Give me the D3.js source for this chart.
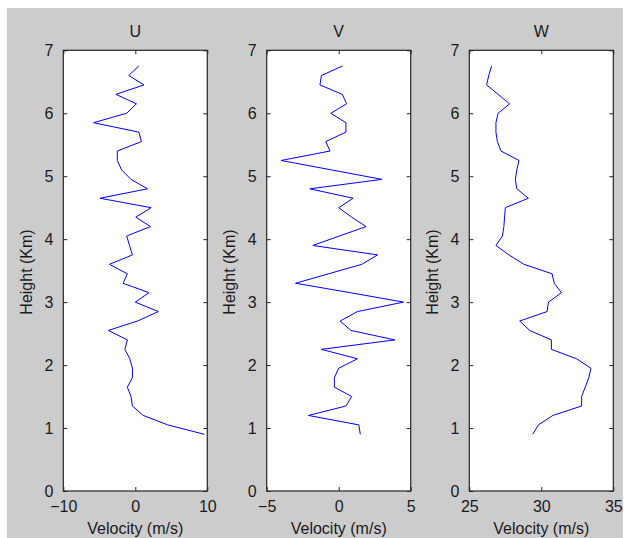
<!DOCTYPE html>
<html><head><meta charset="utf-8">
<script src="https://cdn.jsdelivr.net/npm/d3@7"></script>
<style>
html,body{margin:0;padding:0;background:#fff;}
svg{display:block;}
text{font-family:Arial,"Liberation Sans",sans-serif;fill:#1a1a1a;}
</style></head>
<body>
<script>
const heights = [0.9,1.05,1.2,1.35,1.5,1.65,1.8,1.95,2.1,2.25,2.4,2.55,2.7,2.85,3.0,3.15,3.3,3.45,3.6,3.75,3.9,4.05,4.2,4.35,4.5,4.65,4.8,4.95,5.1,5.25,5.4,5.55,5.7,5.85,6.0,6.15,6.3,6.45,6.6,6.75];
const uValues = [9.6,4.5,1.1,-0.4,-0.6,-1.1,-0.4,-0.4,-0.76,-1.45,-1.1,-3.75,0.3,3.2,0.0,1.9,-1.7,-1.1,-3.6,-0.4,-0.8,-1.2,2.1,0.07,2.2,-4.9,1.7,-0.6,-1.9,-2.5,-2.5,0.85,0.5,-5.8,-1.2,0.16,-2.7,1.2,-0.9,0.48];
const vValues = [1.5,1.4,-2.1,0.5,0.9,-0.3,-0.3,0.0,1.3,-1.2,3.9,0.85,0.1,1.3,4.5,0.8,-3.0,-0.7,1.6,2.7,-1.8,0.05,1.9,0.9,0.0,1.0,-2.0,3.0,-0.5,-4.0,-0.6,-0.9,0.5,0.5,-0.55,0.55,0.25,-1.3,-1.2,0.26];
const wValues = [29.4,29.8,30.8,32.8,32.8,33.05,33.3,33.45,32.45,30.7,30.7,29.2,28.5,30.4,30.5,31.4,30.9,30.75,28.8,27.75,26.85,27.3,27.4,27.45,27.5,29.1,28.3,28.2,28.3,28.45,27.2,26.95,26.85,26.85,27.0,27.8,27.0,26.2,26.35,26.55];
const titles = ["U","V","W"];
const xDomains = [[-10,10],[-5,5],[25,35]];
const xTicks = [[-10,0,10],[-5,0,5],[25,30,35]];
const yTicks = [0,1,2,3,4,5,6,7];
const xLabel = "Velocity (m/s)";
const yLabel = "Height (Km)";

const W = 629, H = 538;
const FS = 16;
const svg = d3.select("body").append("svg").attr("width", W).attr("height", H);
svg.append("rect").attr("x", 7).attr("y", 8).attr("width", 616).attr("height", 530).attr("fill", "#cccccc");

const panelLefts = [63.3, 266.7, 469.3];
const panelWidth = 144;
const plotTop = 50.3, plotBottom = 491;
const series = [uValues, vValues, wValues];

const y = d3.scaleLinear().domain([0,7]).range([plotBottom, plotTop]);

series.forEach((vals, i) => {
  const left = panelLefts[i], right = left + panelWidth;
  const x = d3.scaleLinear().domain(xDomains[i]).range([left, right]);
  const g = svg.append("g");
  g.append("rect").attr("x", left).attr("y", plotTop).attr("width", panelWidth).attr("height", plotBottom - plotTop)
    .attr("fill", "#fff");

  const tl = 4;
  const gb = g.append("g").attr("transform", `translate(0,${plotBottom})`)
    .call(d3.axisBottom(x).tickValues(xTicks[i]).tickSize(-tl).tickPadding(10).tickFormat(d3.format("d")));
  const gt = g.append("g").attr("transform", `translate(0,${plotTop})`)
    .call(d3.axisTop(x).tickValues(xTicks[i]).tickSize(-tl).tickFormat(""));
  const gl = g.append("g").attr("transform", `translate(${left},0)`)
    .call(d3.axisLeft(y).tickValues(yTicks).tickSize(-tl).tickPadding(10).tickFormat(d3.format("d")));
  const gr = g.append("g").attr("transform", `translate(${right},0)`)
    .call(d3.axisRight(y).tickValues(yTicks).tickSize(-tl).tickFormat(""));
  [gb, gt, gl, gr].forEach(a => {
    a.select(".domain").remove();
    a.selectAll(".tick line").attr("stroke", "#262626");
    a.selectAll(".tick text").attr("font-size", FS).attr("fill", "#1a1a1a")
      .style("font-family", "Arial, 'Liberation Sans', sans-serif");
  });
  gb.selectAll(".tick text").attr("dy", "0.71em");

  g.append("rect").attr("x", left).attr("y", plotTop).attr("width", panelWidth).attr("height", plotBottom - plotTop)
    .attr("fill", "none").attr("stroke", "#262626").attr("stroke-width", 1.2);

  const line = d3.line().x((d, j) => x(d)).y((d, j) => y(heights[j]));
  g.append("path").datum(vals).attr("d", line).attr("fill", "none")
    .attr("stroke", "#0000ff").attr("stroke-width", 1);

  const cx = (left + right) / 2;
  g.append("text").attr("x", cx).attr("y", 37).attr("text-anchor", "middle").attr("font-size", FS).text(titles[i]);
  g.append("text").attr("x", cx).attr("y", 534).attr("text-anchor", "middle").attr("font-size", FS).text(xLabel);
  g.append("text").attr("transform", `translate(${left - 31.5},272) rotate(-90)`)
    .attr("text-anchor", "middle").attr("font-size", FS).text(yLabel);
});
</script>
</body></html>
